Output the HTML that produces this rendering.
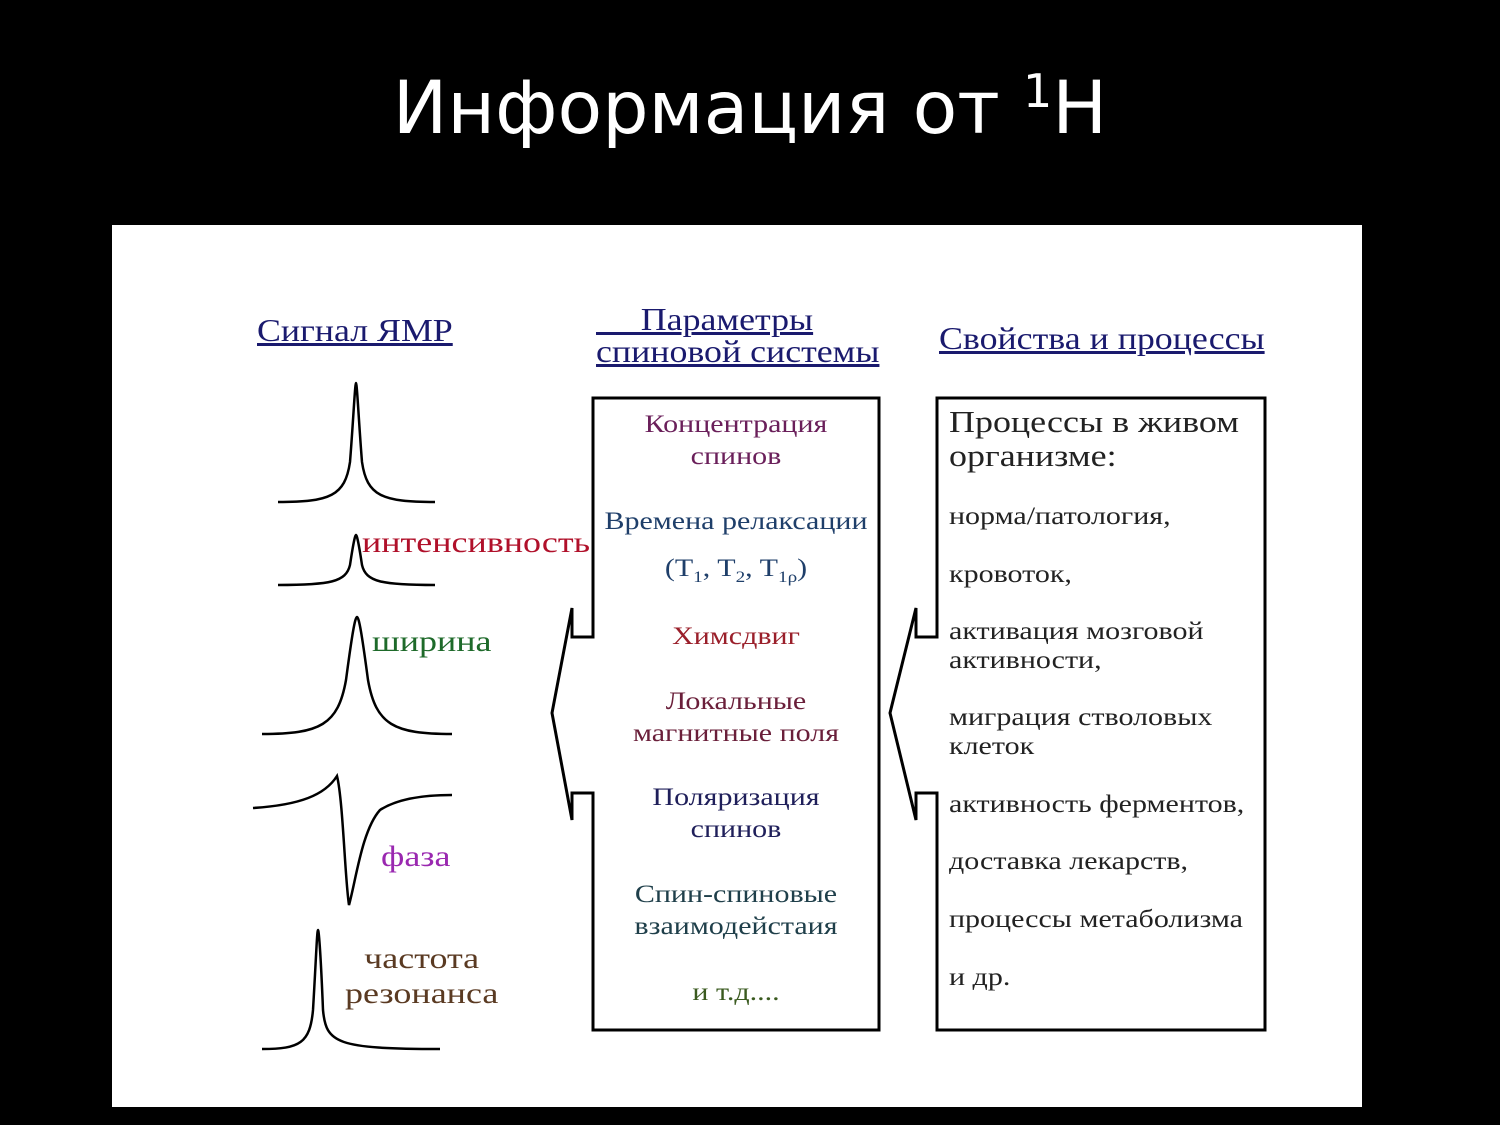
<!DOCTYPE html>
<html><head><meta charset="utf-8"><style>
body{margin:0;width:1500px;height:1125px;background:#000;overflow:hidden;position:relative;font-family:"Liberation Serif",serif}
.t{position:absolute;white-space:nowrap}
.title{left:0;width:1500px;text-align:center;top:64px;font-family:"DejaVu Sans","Liberation Sans",sans-serif;font-size:73px;color:#fff}
.c{text-align:center;font-size:25px;line-height:32px;transform:scaleX(1.2);transform-origin:center}
.h{transform:scaleX(1.12);transform-origin:left}
.s{transform:scaleX(1.2);transform-origin:left}
.r{font-size:25px;line-height:29px;color:#222;transform:scaleX(1.2);transform-origin:left}
</style></head><body>
<div class="t title">Информация от <sup style="font-size:46px;vertical-align:26px">1</sup>H</div>
<div style="position:absolute;left:112px;top:225px;width:1250px;height:882px;background:#fff"></div>
<svg style="position:absolute;left:0;top:0" width="1500" height="1125" fill="none" stroke="#000" stroke-width="2.5">
<path d="M278,502 C330,502 345,496 350,462 C353,425 355,383 356,383 C357,383 359,425 362,462 C367,496 382,502 435,502"/>
<path d="M278,585 C330,585 346,582 350,565 C353,545 355,535 356,535 C357,535 359,545 362,565 C366,582 382,585 435,585"/>
<path d="M262,734 C320,734 338,725 346,680 C352,635 355,617 357,617 C359,617 362,635 368,680 C376,725 394,734 452,734"/>
<path d="M253,808 C300,805 325,795 337,776 C343,800 345,880 349,905 C356,880 362,830 380,810 C400,797 430,795 452,795"/>
<path d="M262,1049 C300,1049 310,1043 313,1010 C316,960 317,930 318,930 C319,930 321,960 323,1010 C326,1043 336,1049 440,1049"/>
<path d="M593,637 L593,398 L879,398 L879,1030 L593,1030 L593,793 L572,793 L572,820 L552,713 L572,608 L572,637 Z" stroke-width="3"/>
<path d="M937,637 L937,398 L1265,398 L1265,1030 L937,1030 L937,793 L916,793 L916,820 L890,713 L916,608 L916,637 Z" stroke-width="3"/>
</svg>
<div class="t h" style="left:257px;top:312px;font-size:32px;color:#1a1a6e;text-decoration:underline">Сигнал ЯМР</div>
<div class="t h" style="left:596px;top:303px;font-size:32px;line-height:32px;color:#1a1a6e;text-decoration:underline">&nbsp;&nbsp;&nbsp;&nbsp;&nbsp;Параметры<br>спиновой системы</div>
<div class="t h" style="left:939px;top:320px;font-size:32px;color:#1a1a6e;text-decoration:underline">Свойства и процессы</div>
<div class="t s" style="left:362px;top:526px;font-size:30px;color:#b0102a">интенсивность</div>
<div class="t s" style="left:372px;top:625px;font-size:30px;color:#1e6a2a">ширина</div>
<div class="t s" style="left:381px;top:840px;font-size:30px;color:#9a28b0">фаза</div>
<div class="t s" style="left:345px;top:941px;font-size:30px;line-height:35px;color:#5a3a22;text-align:center">частота<br>резонанса</div>
<div class="t c" style="left:593px;width:286px;top:409px;color:#6a1f5a">Концентрация<br>спинов</div>
<div class="t c" style="left:593px;width:286px;top:506px;color:#1f3f6a">Времена релаксации</div>
<div class="t c" style="left:593px;width:286px;top:553px;color:#1f3f6a">(T<sub style="font-size:16px">1</sub>, T<sub style="font-size:16px">2</sub>, T<sub style="font-size:16px">1ρ</sub>)</div>
<div class="t c" style="left:593px;width:286px;top:621px;color:#9a1f2a">Химсдвиг</div>
<div class="t c" style="left:593px;width:286px;top:686px;color:#6a1f3a">Локальные<br>магнитные поля</div>
<div class="t c" style="left:593px;width:286px;top:782px;color:#1f1f5a">Поляризация<br>спинов</div>
<div class="t c" style="left:593px;width:286px;top:879px;color:#1f3f4a">Спин-спиновые<br>взаимодейстаия</div>
<div class="t c" style="left:593px;width:286px;top:977px;color:#3a5a1f">и т.д....</div>
<div class="t" style="left:949px;top:405px;font-size:31px;line-height:34px;color:#222;transform:scaleX(1.16);transform-origin:left">Процессы в живом<br>организме:</div>
<div class="t r" style="left:949px;top:502px">норма/патология,</div>
<div class="t r" style="left:949px;top:560px">кровоток,</div>
<div class="t r" style="left:949px;top:617px">активация мозговой<br>активности,</div>
<div class="t r" style="left:949px;top:703px">миграция стволовых<br>клеток</div>
<div class="t r" style="left:949px;top:790px">активность ферментов,</div>
<div class="t r" style="left:949px;top:847px">доставка лекарств,</div>
<div class="t r" style="left:949px;top:905px">процессы метаболизма</div>
<div class="t r" style="left:949px;top:963px">и др.</div>
</body></html>
